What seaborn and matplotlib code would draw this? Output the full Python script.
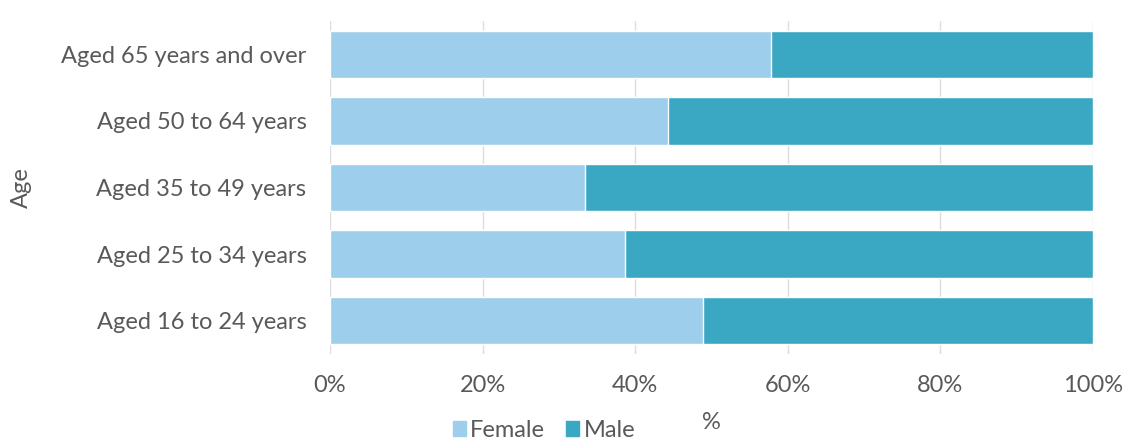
import matplotlib

matplotlib.use("Agg")

import matplotlib.pyplot as plt
import pandas as pd
import seaborn as sns
from matplotlib.patches import Patch
from matplotlib.ticker import PercentFormatter

age_groups = [
    "Aged 65 years and over",
    "Aged 50 to 64 years",
    "Aged 35 to 49 years",
    "Aged 25 to 34 years",
    "Aged 16 to 24 years",
]
female_pct = [57.8, 44.3, 33.4, 38.7, 48.9]
male_pct = [42.2, 55.7, 66.6, 61.3, 51.1]

FEMALE_COLOR = "#9DCEEB"
MALE_COLOR = "#3AA8C3"
TEXT_COLOR = "#595959"

df = pd.DataFrame({"age": age_groups, "female": female_pct, "male": male_pct})
df["total"] = df["female"] + df["male"]

sns.set_theme(style="white")
plt.rcParams["font.family"] = ["Lato", "DejaVu Sans"]

FS = 17

fig = plt.figure(figsize=(11.29, 4.41), dpi=100)
ax = fig.add_axes([0.2923, 0.1973, 0.6758, 0.7551])

# stacked: full-length male bar behind, female on top
sns.barplot(data=df, y="age", x="total", color=MALE_COLOR, width=0.71,
            saturation=1, orient="h", ax=ax, zorder=2)
sns.barplot(data=df, y="age", x="female", color=FEMALE_COLOR, width=0.71,
            saturation=1, orient="h", ax=ax, zorder=3)

ax.set_xlim(0, 100)
ax.set_ylim(4.5, -0.5)
ax.set_xticks([0, 20, 40, 60, 80, 100])
ax.xaxis.set_major_formatter(PercentFormatter(decimals=0))
ax.grid(axis="x", color="#dcdcdc", linewidth=1, zorder=0)
ax.set_axisbelow(True)
for spine in ax.spines.values():
    spine.set_visible(False)

ax.tick_params(axis="both", length=0, labelsize=FS, colors=TEXT_COLOR)
ax.tick_params(axis="y", pad=17)
ax.tick_params(axis="x", pad=15)

ax.set_xlabel("%", fontsize=FS, color=TEXT_COLOR, labelpad=12)
ax.set_ylabel("Age", fontsize=FS, color=TEXT_COLOR, labelpad=21)

handles = [Patch(color=FEMALE_COLOR, label="Female"),
           Patch(color=MALE_COLOR, label="Male")]
fig.legend(handles=handles, loc="center", bbox_to_anchor=(0.482, 0.024),
           ncol=2, frameon=False, fontsize=FS, handlelength=0.55,
           handleheight=0.55, handletextpad=0.2, columnspacing=0.9,
           labelcolor=TEXT_COLOR)

fig.savefig("out.png", dpi=100)
plt.close(fig)
